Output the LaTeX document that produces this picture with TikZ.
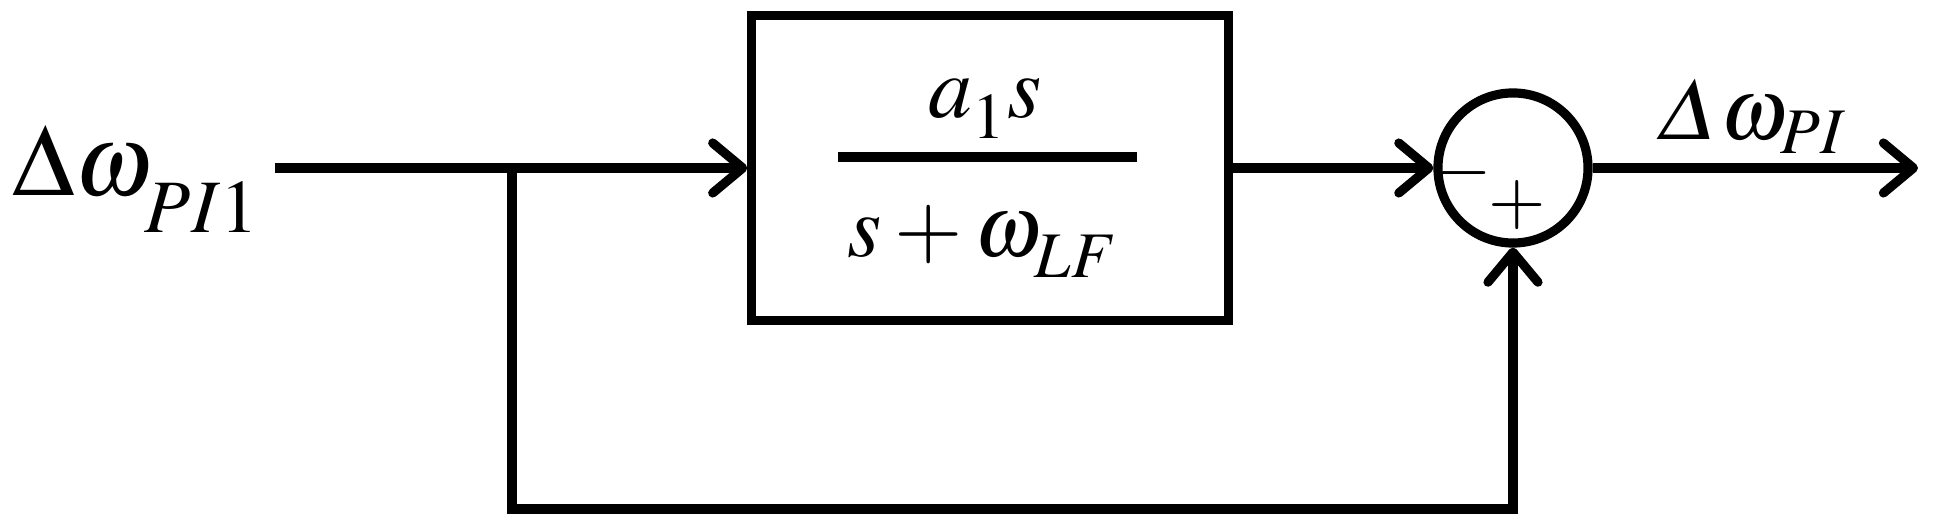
\documentclass[tikz,border=0pt]{standalone}
\usepackage[slantedGreek]{mathptmx}
\usetikzlibrary{arrows.meta,positioning}
\newcommand{\lowsub}[2]{_{\raisebox{-#1}{$\scriptstyle #2$}}}

\begin{document}
\begin{tikzpicture}[x=0.01cm,y=-0.01cm,line width=2.6pt,
 sig/.style={-{Straight Barb[length=3mm,width=5mm,round]}},
 block/.style={draw,minimum width=4.76cm,minimum height=3.05cm,inner sep=0pt},
 sum/.style={draw,circle,minimum size=1.5cm,inner sep=0pt},
 lbl/.style={inner sep=0pt,anchor=base}]
\useasboundingbox (0,0) rectangle (1941,528);
% input and branch point
\coordinate (in) at (275,168);
\coordinate (branch) at (512,168);
\coordinate (low) at (512,509);
\node[lbl,anchor=base west] (inlbl) at (8,196) {\fontsize{29}{34}\selectfont$\upDelta\omega\lowsub{6pt}{PI1}$};
% filter block
\node[block] (filt) at (990,168) {};
\node[lbl] (num) at (985,118) {\fontsize{25}{30}\selectfont$a\lowsub{2pt}{1} s$};
\node[lbl] (den) at (983,257) {\fontsize{25}{30}\selectfont$s+\omega\lowsub{2pt}{LF}$};
\draw (838,157) -- (1137,157);
% summing junction
\node[sum] (add) at (1513,168) {};
\node (minus) at (1463,173) {\fontsize{21}{25}\selectfont$-$};
\node (plus) at (1517,205) {\fontsize{21}{25}\selectfont$+$};
% output
\coordinate (out) at (1918,168);
\node[lbl] (outlbl) at (1752,140) {\fontsize{25}{30}\selectfont$\Delta\omega_{PI}$};
\draw[sig] (in) -- (in -| filt.west);
\draw[sig] (filt.east |- add) -- (add.west);
\draw[sig] (add.east) -- (out);
\draw[sig] (branch) -- (low) -| (add.south);
\end{tikzpicture}
\end{document}
